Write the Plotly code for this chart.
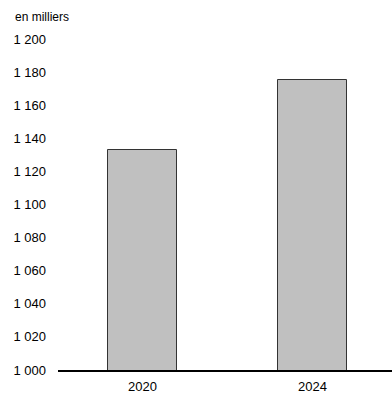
import plotly.graph_objects as go

# Effectifs (en milliers)
years = ["2020", "2024"]
values = [1133, 1175]
y_ticks = [1000, 1020, 1040, 1060, 1080, 1100, 1120, 1140, 1160, 1180, 1200]

fig = go.Figure(
    go.Bar(
        x=years,
        y=values,
        width=0.406,
        marker=dict(color="#c0c0c0", line=dict(color="#333333", width=1)),
    )
)

fig.update_layout(
    width=392,
    height=394,
    margin=dict(l=58, r=0, t=39, b=24),
    paper_bgcolor="white",
    plot_bgcolor="white",
    separators=", ",
    font=dict(family="Liberation Sans, Arial, sans-serif", size=13, color="#000000"),
    showlegend=False,
    bargap=0,
)

fig.update_xaxes(
    type="category",
    range=[-0.497, 1.468],
    showline=True,
    linecolor="#000000",
    linewidth=2,
    showgrid=False,
    ticks="",
    ticklabelstandoff=3,
    tickfont=dict(size=13),
)

fig.update_yaxes(
    range=[1000, 1200],
    tickvals=y_ticks,
    tickformat=",d",
    showgrid=False,
    zeroline=False,
    showline=False,
    ticks="",
    ticklabelstandoff=11,
    tickfont=dict(size=13),
)

fig.add_annotation(
    text="en milliers",
    xref="paper",
    yref="paper",
    x=-45 / 334,
    y=1 + 22 / 331,
    xanchor="left",
    yanchor="middle",
    showarrow=False,
    font=dict(size=12),
)

fig.write_html("out.html")
